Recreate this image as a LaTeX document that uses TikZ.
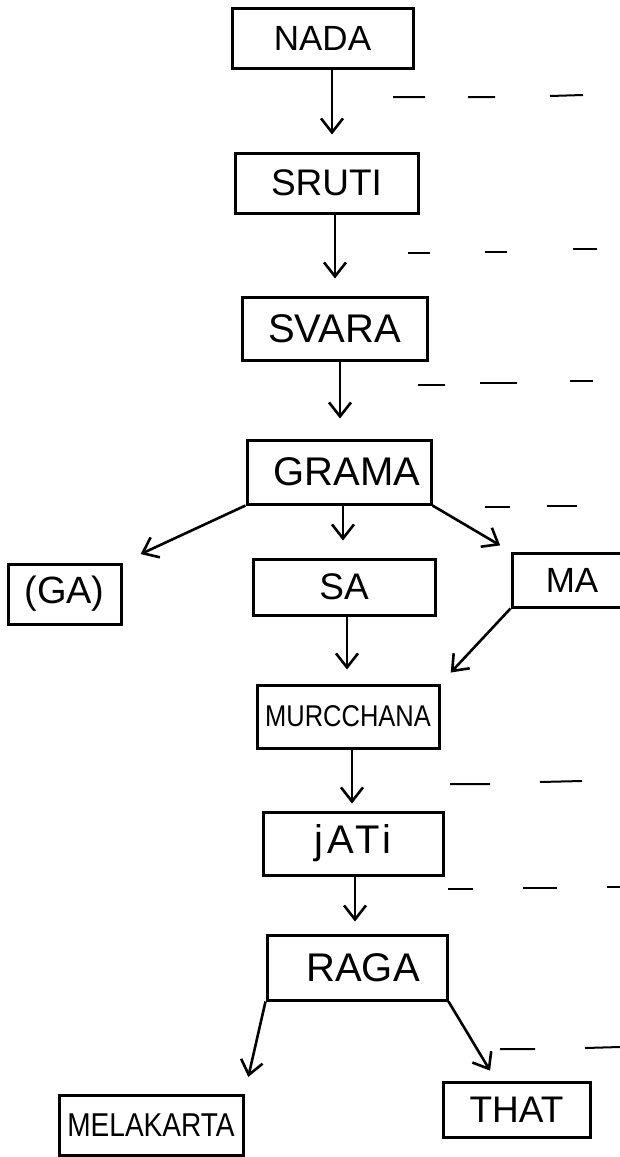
\documentclass[tikz,border=0pt]{standalone}
\usepackage{fontspec}
\setmainfont{Liberation Sans}
\usetikzlibrary{arrows.meta}
\newcommand\fsz[1]{\fontsize{#1}{#1}\selectfont}
\begin{document}
\begin{tikzpicture}[x=1pt,y=-1pt,
  box/.style={draw, line width=3pt, rectangle, inner sep=0pt, anchor=center},
  arr/.style={line width=2.6pt, -{Straight Barb[length=14pt,width=22pt,line width=2.6pt]}},
  dsh/.style={line width=2pt}]
\clip (0,0) rectangle (620,1157);
\fill[white] (0,0) rectangle (620,1157);

% boxes
\node[box, minimum width=181pt, minimum height=60pt, font=\fsz{35}] (nada) at (322.5,38) {NADA\hspace{36pt}};
\node[box, minimum width=183pt, minimum height=60pt, font=\fsz{37}] (sruti) at (326.5,183) {SRUTI};
\node[box, minimum width=185pt, minimum height=63pt, font=\fsz{40}] (svara) at (334.5,328.5) {SVARA};
\node[box, minimum width=184pt, minimum height=64pt, font=\fsz{40}] (grama) at (339,472) {\hspace{16pt}GRAMA};
\node[box, minimum width=113pt, minimum height=60pt, font=\fsz{38}] (ga) at (64.5,594) {(GA)\hspace{8pt}};
\node[box, minimum width=182pt, minimum height=56pt, font=\fsz{37}] (sa) at (344,587) {SA};
\node[box, minimum width=120pt, minimum height=54pt, font=\fsz{35}] (ma) at (572,580) {MA\hspace{22pt}};
\node[box, minimum width=182pt, minimum height=63pt, font={\fsz{30}\addfontfeature{FakeStretch=0.85}}] (murc) at (348,716.5) {MURCCHANA};
\node[box, minimum width=180pt, minimum height=63pt, font={\fsz{40}\addfontfeature{LetterSpace=10}}] (jati) at (353,843.5) {jATi\hspace{16pt}};
\node[box, minimum width=180pt, minimum height=65pt, font=\fsz{40}] (raga) at (357,967.5) {\hspace{12pt}RAGA};
\node[box, minimum width=184pt, minimum height=60pt, font={\fsz{33}\addfontfeature{FakeStretch=0.85}}] (mela) at (151,1125) {MELAKARTA};
\node[box, minimum width=147pt, minimum height=55pt, font=\fsz{37}] (that) at (516.5,1109.5) {THAT\hspace{10pt}};

% connectors
\draw[arr, shorten >=17pt] ([xshift=9.5pt]nada.south) -- ([xshift=5.5pt]sruti.north);
\draw[arr, shorten >=17pt] ([xshift=8.5pt]sruti.south) -- ([xshift=0.5pt]svara.north);
\draw[arr, shorten >=20pt] ([xshift=5.5pt]svara.south) -- ([xshift=1pt]grama.north);
\draw[arr, shorten >=17pt] ([xshift=4pt]grama.south) -- ([xshift=-1pt]sa.north);
\draw[arr, shorten >=20pt] (grama.south west) -- (ga.north east);
\draw[arr, shorten >=12pt] (grama.south east) -- (ma.north west);
\draw[arr, shorten >=14pt] ([xshift=3pt]sa.south) -- ([xshift=-1pt]murc.north);
\draw[arr, shorten >=15pt] (ma.south west) -- (murc.north east);
\draw[arr, shorten >=7pt] ([xshift=4pt]murc.south) -- ([xshift=-1pt]jati.north);
\draw[arr, shorten >=12pt] ([xshift=2pt]jati.south) -- ([xshift=-2pt]raga.north);
\draw[arr, shorten >=17pt] (raga.south west) -- (mela.north east);
\draw[arr, shorten >=11.5pt] (raga.south east) -- ([xshift=-20.5pt]that.north);

% dashes
\draw[dsh] (393,97) -- (425,97) (468,97) -- (495,97) (550,96) -- (583,95);
\draw[dsh] (408,253) -- (430,253) (485,252) -- (507,252) (573,249) -- (597,249);
\draw[dsh] (418,385) -- (445,385) (480,383) -- (517,383) (570,381) -- (593,381);
\draw[dsh] (485,507) -- (510,507) (547,506) -- (577,506);
\draw[dsh] (450,784) -- (490,784) (540,782) -- (582,781);
\draw[dsh] (448,889) -- (473,889) (523,888) -- (557,888) (607,887) -- (620,887);
\draw[dsh] (500,1049) -- (535,1049) (585,1048) -- (620,1047);
\end{tikzpicture}
\end{document}
